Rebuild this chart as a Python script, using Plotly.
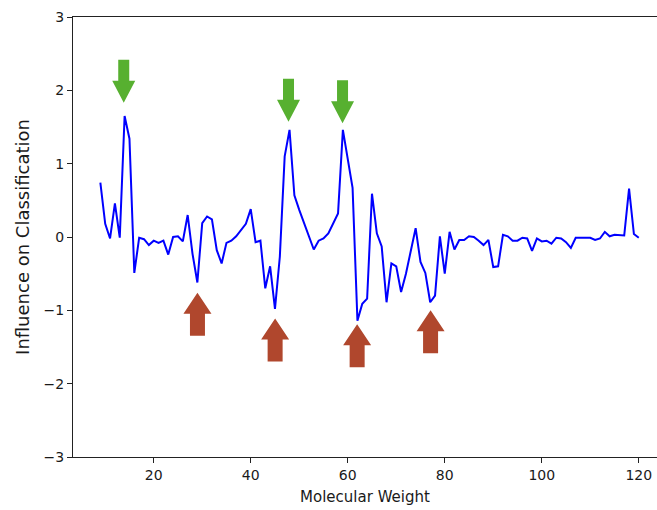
import plotly.graph_objects as go

# ---------------- data ----------------
mol_weight = list(range(9, 121))
influence = [
    0.74, 0.18, -0.02, 0.46, -0.01, 1.65, 1.34, -0.49, -0.01, -0.03,   # 9-18
    -0.11, -0.05, -0.08, -0.05, -0.24, 0.00, 0.01, -0.06, 0.30, -0.23,  # 19-28
    -0.62, 0.19, 0.28, 0.24, -0.18, -0.36, -0.08, -0.05, 0.01, 0.09,    # 29-38
    0.18, 0.38, -0.07, -0.05, -0.70, -0.40, -0.98, -0.27, 1.10, 1.46,   # 39-48
    0.57, 0.37, 0.18, 0.00, -0.17, -0.05, -0.02, 0.05, 0.18, 0.32,      # 49-58
    1.46, 1.09, 0.67, -1.14, -0.91, -0.84, 0.59, 0.05, -0.13, -0.89,    # 59-68
    -0.36, -0.40, -0.75, -0.50, -0.21, 0.12, -0.34, -0.49, -0.89, -0.80,  # 69-78
    0.01, -0.50, 0.07, -0.17, -0.04, -0.04, 0.01, 0.00, -0.05, -0.11,   # 79-88
    -0.04, -0.41, -0.40, 0.03, 0.01, -0.05, -0.05, -0.01, -0.02, -0.19,  # 89-98
    -0.02, -0.06, -0.05, -0.09, -0.01, -0.02, -0.07, -0.15, -0.01, -0.01,  # 99-108
    0.00, -0.01, -0.04, -0.02, 0.07, 0.01, 0.03, 0.02, 0.02, 0.66,      # 109-118
    0.04, -0.01,                                                        # 119-120
]

x_ticks = [20, 40, 60, 80, 100, 120]
y_ticks = [-3, -2, -1, 0, 1, 2, 3]
y_tick_labels = ["\u22123", "\u22122", "\u22121", "0", "1", "2", "3"]

# arrow annotations (tip positions in data units)
green_arrow_x = [13.82, 47.79, 58.93]
green_arrow_tip = [1.83, 1.57, 1.55]
red_arrow_x = [29.02, 45.03, 61.94, 77.08]
red_arrow_tip = [-0.76, -1.11, -1.19, -1.00]

# ---------------- layout ----------------
W, H = 657, 510
M = dict(l=73, r=0, t=17, b=53)
X_RANGE = [3.36, 123.76]
Y_RANGE = [-3, 3]
px_x = (W - M["l"] - M["r"]) / (X_RANGE[1] - X_RANGE[0])
px_y = (H - M["t"] - M["b"]) / (Y_RANGE[1] - Y_RANGE[0])

GREEN = "#57b030"
RED = "#b0472d"


def arrow_path(xc, ytip, direction, head_w, shaft_w, head_h, total_h):
    hw = head_w / 2 / px_x
    sw = shaft_w / 2 / px_x
    hh = head_h / px_y * direction
    th = total_h / px_y * direction
    # direction=+1: arrow points down (tail above tip); -1: points up
    pts = [
        (xc, ytip),
        (xc - hw, ytip + hh),
        (xc - sw, ytip + hh),
        (xc - sw, ytip + th),
        (xc + sw, ytip + th),
        (xc + sw, ytip + hh),
        (xc + hw, ytip + hh),
    ]
    return "M " + " L ".join(f"{a:.4f},{b:.4f}" for a, b in pts) + " Z"


shapes = []
for xc, yt in zip(green_arrow_x, green_arrow_tip):
    shapes.append(dict(type="path", xref="x", yref="y",
                       path=arrow_path(xc, yt, 1, 23, 11, 22, 43),
                       fillcolor=GREEN, line=dict(width=0), layer="above"))
for xc, yt in zip(red_arrow_x, red_arrow_tip):
    shapes.append(dict(type="path", xref="x", yref="y",
                       path=arrow_path(xc, yt, -1, 28, 15, 21, 43),
                       fillcolor=RED, line=dict(width=0), layer="above"))

fig = go.Figure()
fig.add_trace(go.Scatter(x=mol_weight, y=influence, mode="lines",
                         line=dict(color="#0000ff", width=2),
                         hoverinfo="skip", showlegend=False))

FONT = "DejaVu Sans"
fig.update_layout(
    width=W, height=H, margin=M,
    paper_bgcolor="white", plot_bgcolor="white",
    font=dict(family=FONT, color="#1a1a1a", size=14),
    shapes=shapes,
    showlegend=False,
)
fig.update_xaxes(
    range=X_RANGE, tickmode="array", tickvals=x_ticks, automargin=False,
    ticks="outside", ticklen=5, tickwidth=1, tickcolor="#222",
    showline=True, linecolor="#222", linewidth=1, mirror=True,
    showgrid=False, zeroline=False,
    tickfont=dict(family=FONT, size=14, color="#1a1a1a"),
    title=dict(text="Molecular Weight", font=dict(family=FONT, size=15, color="#1a1a1a"), standoff=9),
)
fig.update_yaxes(
    range=Y_RANGE, tickmode="array", tickvals=y_ticks, ticktext=y_tick_labels, automargin=False,
    ticks="outside", ticklen=5, tickwidth=1, tickcolor="#222",
    showline=True, linecolor="#222", linewidth=1, mirror=False,
    showgrid=False, zeroline=False,
    tickfont=dict(family=FONT, size=14, color="#1a1a1a"),
    title=dict(text="Influence on Classification", font=dict(family=FONT, size=18, color="#1a1a1a"), standoff=9),
)

fig.write_html(
    "out.html",
    config={"displayModeBar": False},
    post_script="document.body.style.margin='0';document.body.style.overflow='hidden';",
)
